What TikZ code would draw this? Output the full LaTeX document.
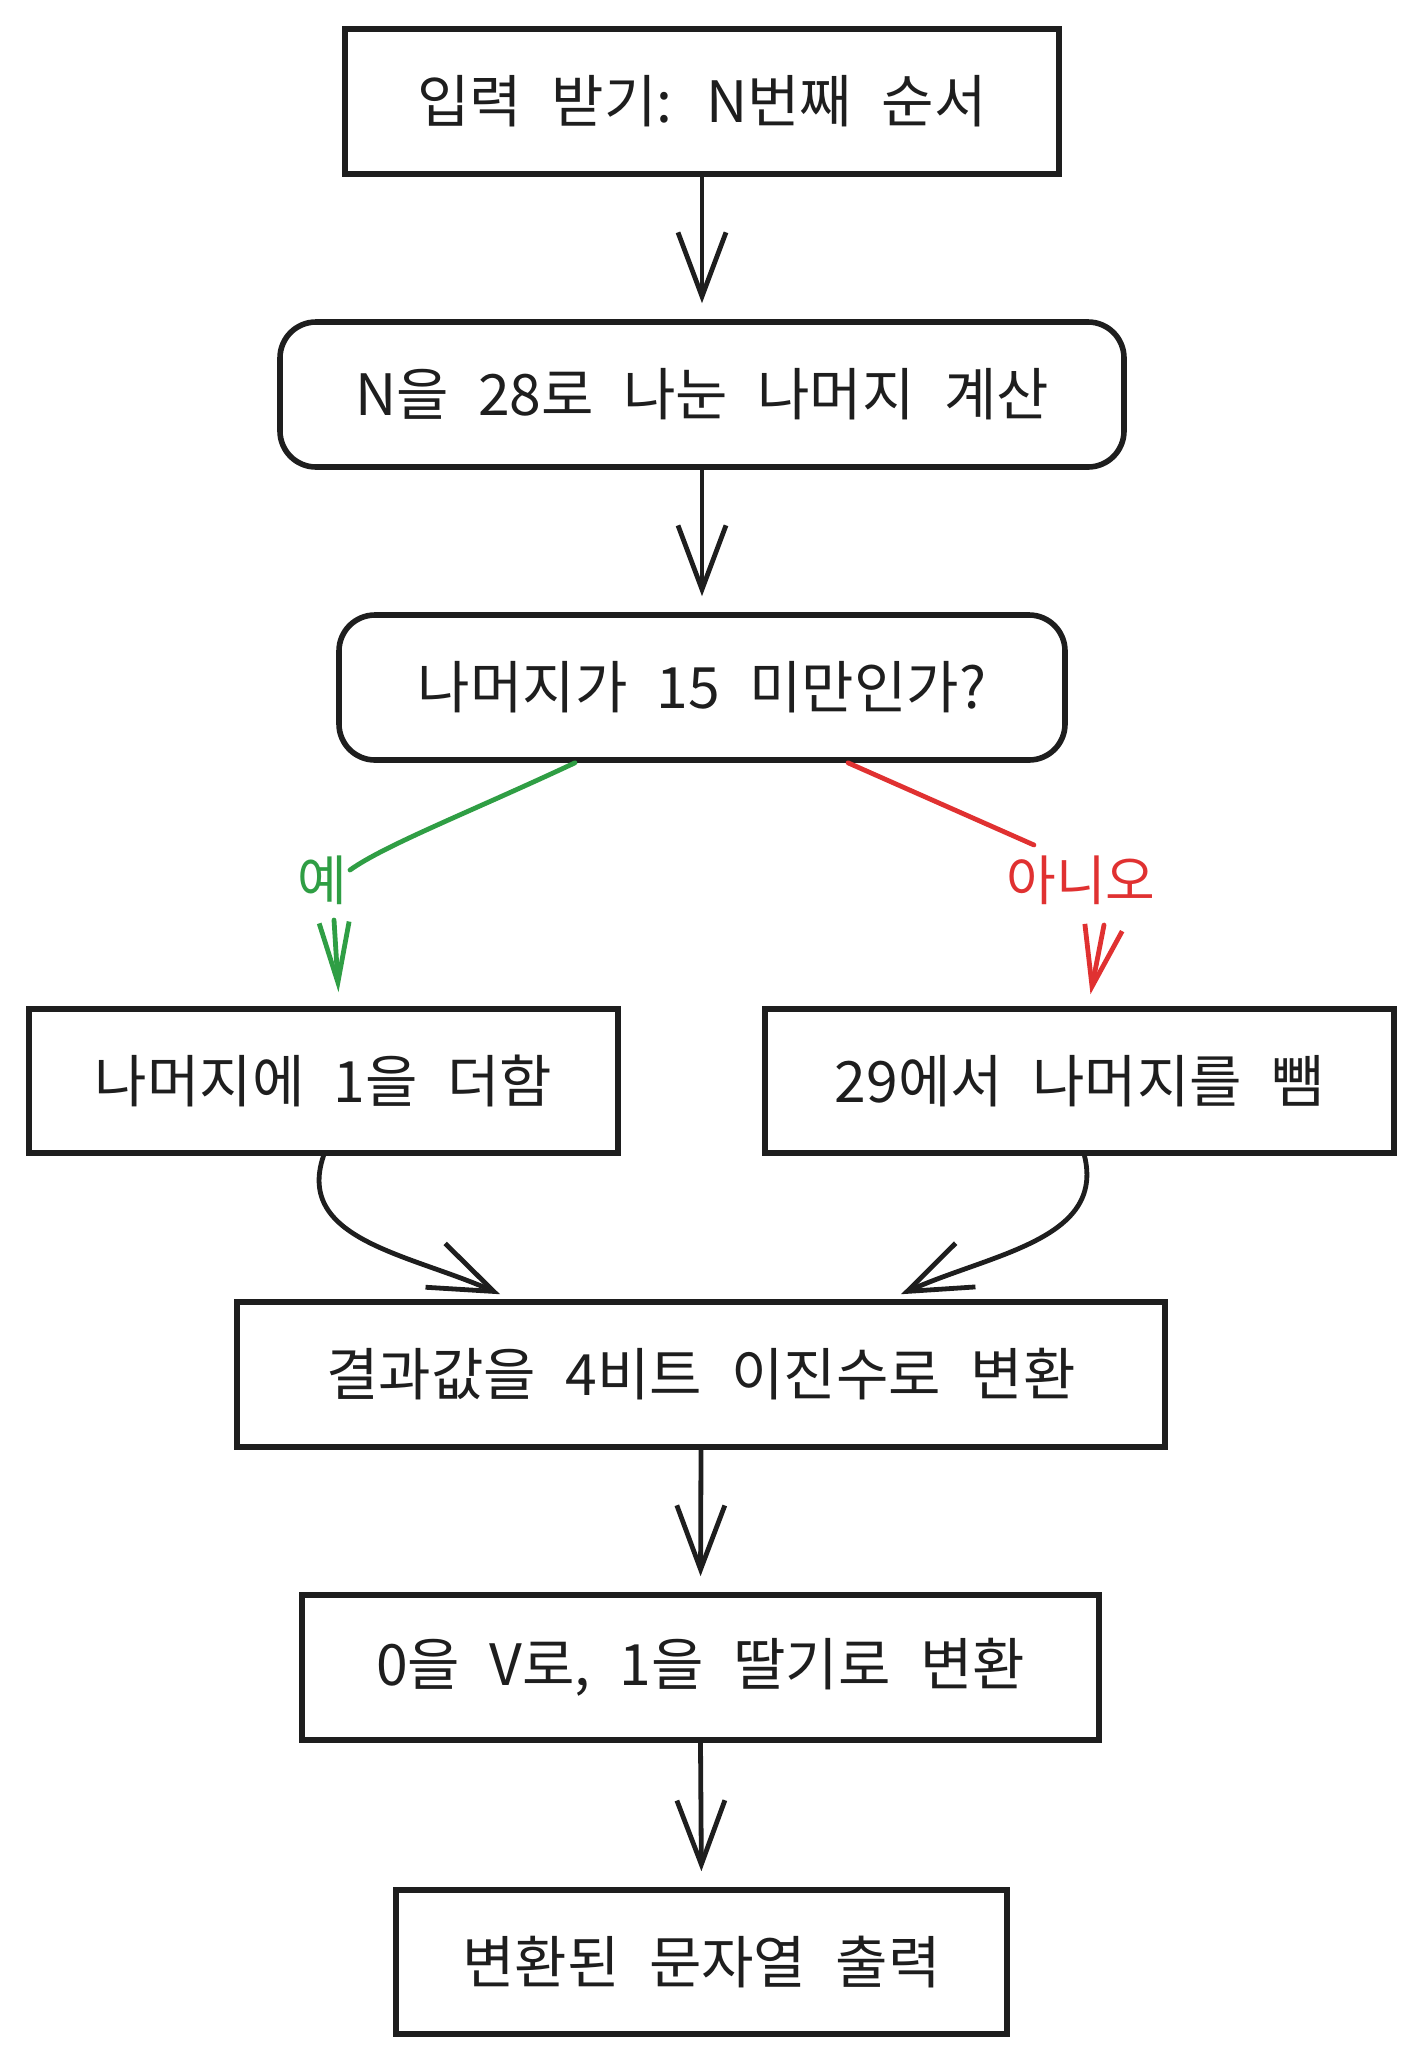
\documentclass[tikz,border=0pt]{standalone}
\usepackage{fontspec}
\newfontfamily\kr[WordSpace=2.3]{Noto Sans CJK KR}
\usetikzlibrary{arrows.meta,calc}
\definecolor{ink}{HTML}{1E1E1E}
\definecolor{yesg}{HTML}{2F9E44}
\definecolor{nor}{HTML}{E03131}
\begin{document}
\begin{tikzpicture}[x=0.5pt,y=-0.5pt,
  box/.style={draw=ink, line width=2.8pt, font=\kr\fontsize{28.5}{34}\selectfont, text=ink, inner sep=0pt, align=center},
  rbox/.style={box, rounded corners=18pt},
  conn/.style={draw=ink, line width=2.4pt, line cap=round, -{Straight Barb[length=32pt,width=24pt]}},
  yline/.style={draw=yesg, line width=2.4pt, line cap=round},
  nline/.style={draw=nor, line width=2.4pt, line cap=round},
  lbl/.style={font=\kr\fontsize{27}{32}\selectfont, inner sep=0pt}]
\useasboundingbox (0,0) rectangle (1423,2062);
\node[box, minimum width=357pt, minimum height=72.5pt] (n1) at (702,101.5) {입력 받기: N번째 순서};
\node[rbox, minimum width=422pt, minimum height=72.5pt] (n2) at (702,394.5) {N을 28로 나눈 나머지 계산};
\node[rbox, minimum width=363pt, minimum height=72.5pt] (n3) at (702,687.5) {나머지가 15 미만인가?};
\node[box, minimum width=294.5pt, minimum height=72pt] (n4) at (323.5,1081) {나머지에 1을 더함};
\node[box, minimum width=314.5pt, minimum height=72pt] (n5) at (1079.5,1081) {29에서 나머지를 뺌};
\node[box, minimum width=464pt, minimum height=72.5pt] (n6) at (701,1374.5) {결과값을 4비트 이진수로 변환};
\node[box, minimum width=398.5pt, minimum height=72.5pt] (n7) at (700.5,1667.5) {0을 V로, 1을 딸기로 변환};
\node[box, minimum width=305.5pt, minimum height=72pt] (n8) at (701.5,1962) {변환된 문자열 출력};

\draw[conn, shorten >=8pt] (n1.south) -- (n2.north);
\draw[conn, shorten >=8pt] (n2.south) -- (n3.north);
\draw[conn, shorten >=8pt] (n6.south) -- (n7.north);
\draw[conn, shorten >=8pt] (n7.south) -- (n8.north);

% yes branch
\coordinate (g1) at (350,870);
\coordinate (g2) at (334,920);
\draw[yline] ($(n3.south)+(-127,0)$) .. controls (470,812) and (385,845) .. (g1);
\node[lbl, text=yesg] (ly) at (322,880) {예};
\draw[yline, -{Straight Barb[length=30pt,width=15pt]}] (g2) -- ($(n4.north)+(15,-14)$);

% no branch
\coordinate (r1) at (1034,845);
\coordinate (r2) at (1104,925);
\draw[nline] ($(n3.south)+(146,0)$) -- (r1);
\node[lbl, text=nor] (ln) at (1081,880) {아니오};
\draw[nline, -{Straight Barb[length=30pt,width=19pt]}] (r2) -- ($(n5.north)+(11,-12)$);

% merge
\draw[conn] (n4.south) .. controls (295,1240) and (410,1254) .. ($(n6.north)+(-201,-5)$);
\draw[conn] ($(n5.south)+(5,0)$) .. controls (1105,1240) and (990,1254) .. ($(n6.north)+(200,-5)$);
\end{tikzpicture}
\end{document}
